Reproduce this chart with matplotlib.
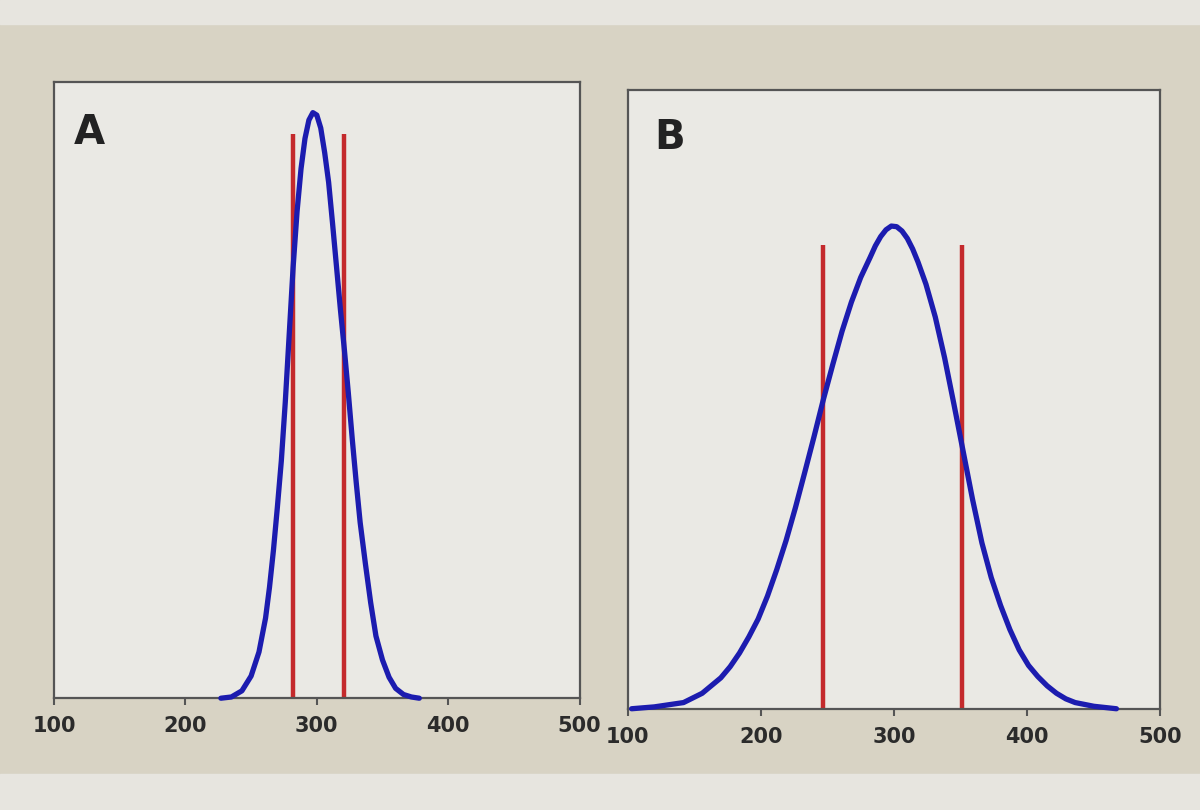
import matplotlib.pyplot as plt
from matplotlib.patches import Rectangle

a_x = [227, 235, 243, 250, 256, 261, 264, 267, 270, 273, 276, 279, 282, 285,
       288, 291, 294, 297, 300, 303, 306, 309, 312, 315, 318, 321, 324, 327,
       330, 333, 337, 341, 345, 350, 355, 360, 366, 372, 378]
a_y = [0.0, 0.002, 0.012, 0.036, 0.075, 0.13, 0.18, 0.24, 0.31, 0.385, 0.48,
       0.59, 0.70, 0.79, 0.859, 0.908, 0.938, 0.95, 0.946, 0.925, 0.885, 0.837,
       0.77, 0.70, 0.63, 0.565, 0.495, 0.42, 0.35, 0.285, 0.218, 0.155, 0.101,
       0.062, 0.034, 0.016, 0.006, 0.002, 0.0]
a_red = [282, 321]
a_red_top = 0.915

# curve B
b_x = [103, 120, 142, 156, 170, 177, 184, 191, 198, 205, 212, 219, 226, 233,
       240, 247, 254, 261, 268, 275, 282, 286, 290, 294, 298, 302, 306, 310,
       314, 318, 324, 331, 338, 345, 352, 359, 366, 373, 380, 387, 394, 401,
       408, 415, 422, 429, 436, 450, 467]
b_y = [0.0, 0.003, 0.01, 0.025, 0.05, 0.068, 0.09, 0.116, 0.145, 0.182, 0.225,
       0.272, 0.325, 0.382, 0.44, 0.50, 0.556, 0.61, 0.657, 0.697, 0.729,
       0.748, 0.763, 0.774, 0.78, 0.779, 0.772, 0.76, 0.743, 0.722, 0.686,
       0.633, 0.567, 0.492, 0.415, 0.338, 0.268, 0.212, 0.167, 0.128, 0.095,
       0.07, 0.052, 0.037, 0.025, 0.016, 0.01, 0.004, 0.0]
b_red = [247, 351]
b_red_top = 0.75

ticks = [100, 200, 300, 400, 500]

fig = plt.figure(figsize=(12, 8.1), dpi=100)
fig.patch.set_facecolor('#d8d3c4')
# lighter strips at top and bottom of the photo
fig.patches.append(Rectangle((0, 0.97), 1, 0.03, transform=fig.transFigure,
                             color='#e7e5df', zorder=0))
fig.patches.append(Rectangle((0, 0), 1, 0.045, transform=fig.transFigure,
                             color='#e7e5df', zorder=0))

panels = [
    ([0.045, 0.138, 0.438, 0.761], a_x, a_y, a_red, a_red_top, 'A', (0.068, 0.917)),
    ([0.523, 0.125, 0.444, 0.764], b_x, b_y, b_red, b_red_top, 'B', (0.079, 0.922)),
]

for rect, xs, ys, reds, red_top, letter, lpos in panels:
    ax = fig.add_axes(rect)
    ax.set_facecolor('#eae9e4')
    ax.vlines(reds, 0, red_top, colors='#c42a2c', linewidth=3.2, zorder=2)
    ax.plot(xs, ys, color='#1c1caf', linewidth=3.8, solid_capstyle='round',
            solid_joinstyle='round', zorder=3, clip_on=False)
    ax.set_xlim(100, 500)
    ax.set_ylim(0, 1)
    ax.set_yticks([])
    ax.set_xticks(ticks)
    ax.set_xticklabels([str(t) for t in ticks], fontsize=15, fontweight='bold',
                       color='#2b2b2b')
    ax.tick_params(axis='x', length=5, width=1.5, color='#555555', pad=8)
    for s in ax.spines.values():
        s.set_color('#555555')
        s.set_linewidth(1.6)
    ax.text(lpos[0], lpos[1], letter, transform=ax.transAxes, fontsize=29,
            fontweight='bold', color='#222222', ha='center', va='center')

fig.savefig('out.png', dpi=100, facecolor=fig.get_facecolor())
